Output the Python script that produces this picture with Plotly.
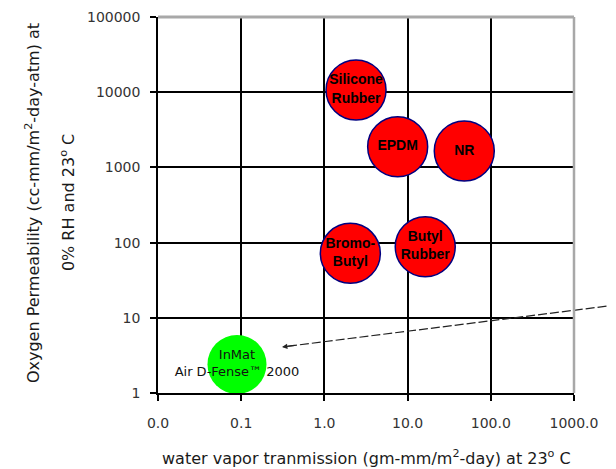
import plotly.graph_objects as go

materials = ["Silicone<br>Rubber", "EPDM", "NR", "Bromo-<br>Butyl", "Butyl<br>Rubber"]
wvtr = [2.4, 7.6, 48, 2.05, 16.3]
o2_perm = [10700, 1880, 1650, 72, 88]

inmat_label = ["InMat<br>Air D-Fense\u2122 2000"]
inmat_wvtr = [0.089]
inmat_o2 = [2.4]

x_tickvals = [0.01, 0.1, 1, 10, 100, 1000]
x_ticktext = ["0.0", "0.1", "1.0", "10.0", "100.0", "1000.0"]
y_tickvals = [1, 10, 100, 1000, 10000, 100000]
y_ticktext = ["1", "10", "100", "1000", "10000", "100000"]

x_title = "water vapor tranmission (gm-mm/m<sup>2</sup>-day) at 23<sup>o</sup> C"
y_title_1 = "Oxygen Permeability (cc-mm/m<sup>2</sup>-day-atm) at"
y_title_2 = "0% RH and 23<sup>o</sup> C"

W, H = 608, 461
L, R, T, B = 150, 42, 9, 76
pw, ph = W - L - R, H - T - B

def px_x(p):  # figure pixel -> paper
    return (p - L) / pw

def px_y(p):
    return (H - B - p) / ph

fig = go.Figure()
fig.add_trace(go.Scatter(
    x=wvtr, y=o2_perm, mode="markers+text",
    text=materials, textposition="middle center",
    textfont=dict(family="Liberation Sans, Arial", size=14, color="#000000", weight="bold"),
    marker=dict(size=60, color="#FF0000", line=dict(color="#000080", width=1.5)),
    cliponaxis=False, showlegend=False, hoverinfo="skip"))
fig.add_trace(go.Scatter(
    x=inmat_wvtr, y=inmat_o2, mode="markers+text",
    text=inmat_label, textposition="middle center",
    textfont=dict(family="DejaVu Sans", size=13, color="#111111"),
    marker=dict(size=59, color="#00FF00", line=dict(width=0)),
    cliponaxis=False, showlegend=False, hoverinfo="skip"))

# pointer line (dashed) and arrow head
hx, hy = 274, 339
tx, ty = 612, 296.5
fig.add_shape(type="line", xref="paper", yref="paper",
              x0=px_x(hx + 6), y0=px_y(hy - 0.75), x1=px_x(tx), y1=px_y(ty),
              line=dict(color="#222222", width=1.2, dash="9px,3px"))
fig.add_annotation(x=px_x(hx), y=px_y(hy), xref="paper", yref="paper",
                   ax=14, ay=-1.8, text="", showarrow=True, arrowhead=2,
                   arrowsize=0.9, arrowwidth=1.2, arrowcolor="#222222")

# gray top and right borders
fig.add_shape(type="line", xref="paper", yref="paper", x0=0, x1=1, y0=1, y1=1,
              line=dict(color="#a8a8a8", width=3), layer="above")
fig.add_shape(type="line", xref="paper", yref="paper", x0=1, x1=1, y0=0, y1=1,
              line=dict(color="#a8a8a8", width=2.5), layer="above")

# axis titles
fig.add_annotation(x=px_x(24), y=0.505, xref="paper", yref="paper", text=y_title_1,
                   textangle=-90, showarrow=False, xanchor="center", yanchor="middle",
                   font=dict(family="DejaVu Sans", size=16, color="#1a1a1a"))
fig.add_annotation(x=px_x(59), y=0.505, xref="paper", yref="paper", text=y_title_2,
                   textangle=-90, showarrow=False, xanchor="center", yanchor="middle",
                   font=dict(family="DejaVu Sans", size=16, color="#1a1a1a"))
fig.add_annotation(x=0.5, y=px_y(449), xref="paper", yref="paper", text=x_title,
                   showarrow=False, xanchor="center", yanchor="middle",
                   font=dict(family="DejaVu Sans", size=16, color="#1a1a1a"))

fig.update_layout(
    width=W, height=H,
    margin=dict(l=L, r=R, t=T, b=B, autoexpand=False),
    paper_bgcolor="white", plot_bgcolor="white",
    font=dict(family="DejaVu Sans", color="#222222"),
    xaxis=dict(type="log", range=[-2, 3.0002], tickvals=x_tickvals, ticktext=x_ticktext,
               automargin=False,
               showgrid=True, gridcolor="#000000", gridwidth=1.5,
               showline=True, linecolor="#000000", linewidth=1.5,
               ticks="outside", ticklen=6, tickcolor="#000000", tickwidth=1.5,
               ticklabelstandoff=10,
               tickfont=dict(family="DejaVu Sans", size=14, color="#333333"), zeroline=False),
    yaxis=dict(type="log", range=[0, 5.0002], tickvals=y_tickvals, ticktext=y_ticktext,
               automargin=False, ticklabeloverflow="allow",
               showgrid=True, gridcolor="#000000", gridwidth=1.5,
               showline=True, linecolor="#000000", linewidth=1.5,
               ticks="outside", ticklen=6, tickcolor="#000000", tickwidth=1.5,
               ticklabelstandoff=7,
               tickfont=dict(family="DejaVu Sans", size=14, color="#333333"), zeroline=False),
)

fig.write_html("out.html")
